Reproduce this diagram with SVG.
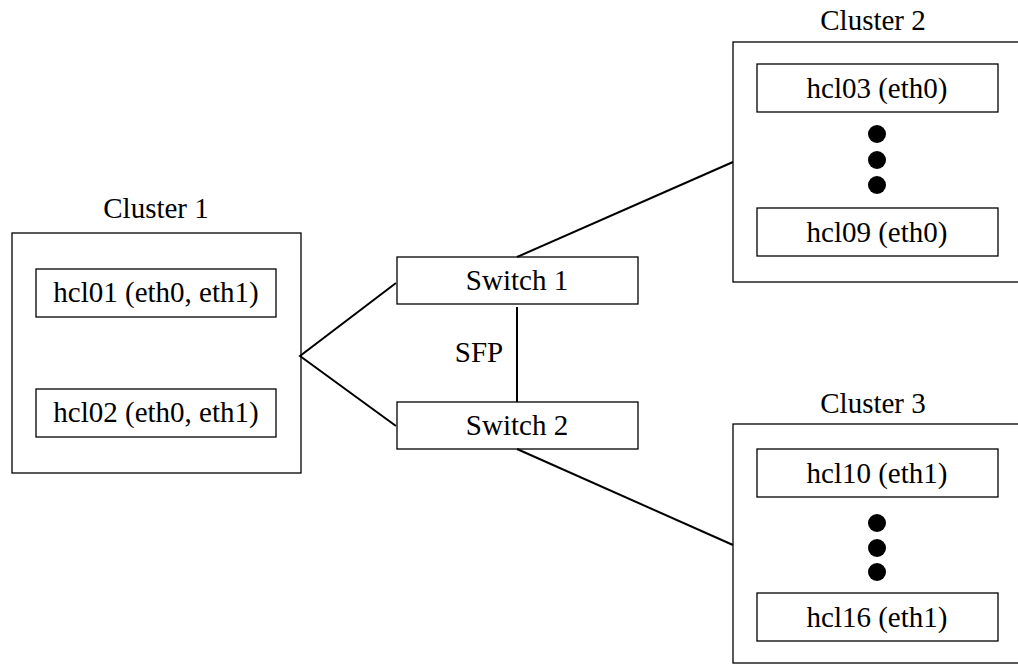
<svg xmlns="http://www.w3.org/2000/svg" width="1018" height="665" viewBox="0 0 1018 665">
<style>
.box{fill:#fff;stroke:#000;stroke-width:1.3}
.t{font-family:"Liberation Serif","Times New Roman",serif;font-size:29px;fill:#000;text-anchor:middle}
.c{stroke:#000;stroke-width:2;fill:none}
.dot{fill:#000}
</style>
<rect width="1018" height="665" fill="#fff"/>
<g id="cluster1">
<text class="t" x="156" y="218">Cluster 1</text>
<rect class="box" x="12" y="233" width="289" height="240"/>
</g>
<g id="hcl01">
<rect class="box" x="36" y="269" width="240" height="48"/>
<text class="t" x="156" y="302">hcl01 (eth0, eth1)</text>
</g>
<g id="hcl02">
<rect class="box" x="36" y="389" width="240" height="48"/>
<text class="t" x="156" y="422">hcl02 (eth0, eth1)</text>
</g>
<g id="switch1">
<rect class="box" x="397" y="257" width="241" height="47"/>
<text class="t" x="517" y="290">Switch 1</text>
</g>
<g id="switch2">
<rect class="box" x="397" y="402" width="241" height="47"/>
<text class="t" x="517" y="435">Switch 2</text>
</g>
<g id="cluster2">
<text class="t" x="873" y="30">Cluster 2</text>
<rect class="box" x="733" y="42" width="295" height="240"/>
<circle class="dot" cx="877" cy="134" r="9"/>
<circle class="dot" cx="877" cy="160" r="9"/>
<circle class="dot" cx="877" cy="185" r="9"/>
</g>
<g id="hcl03">
<rect class="box" x="757" y="64" width="241" height="48"/>
<text class="t" x="877" y="98">hcl03 (eth0)</text>
</g>
<g id="hcl09">
<rect class="box" x="757" y="208" width="241" height="48"/>
<text class="t" x="877" y="242">hcl09 (eth0)</text>
</g>
<g id="cluster3">
<text class="t" x="873" y="413">Cluster 3</text>
<rect class="box" x="733" y="424" width="295" height="239"/>
<circle class="dot" cx="877" cy="523" r="9"/>
<circle class="dot" cx="877" cy="548" r="9"/>
<circle class="dot" cx="877" cy="572" r="9"/>
</g>
<g id="hcl10">
<rect class="box" x="757" y="449" width="241" height="48"/>
<text class="t" x="877" y="483">hcl10 (eth1)</text>
</g>
<g id="hcl16">
<rect class="box" x="757" y="593" width="241" height="48"/>
<text class="t" x="877" y="627">hcl16 (eth1)</text>
</g>
<g id="connectors">
<polyline class="c" points="396,283 300,356 396,426"/>
<line class="c" x1="517" y1="307" x2="517" y2="402"/>
<line class="c" x1="517" y1="257" x2="733" y2="162"/>
<line class="c" x1="517" y1="449" x2="733" y2="545"/>
<text class="t" x="479" y="362">SFP</text>
</g>
</svg>
